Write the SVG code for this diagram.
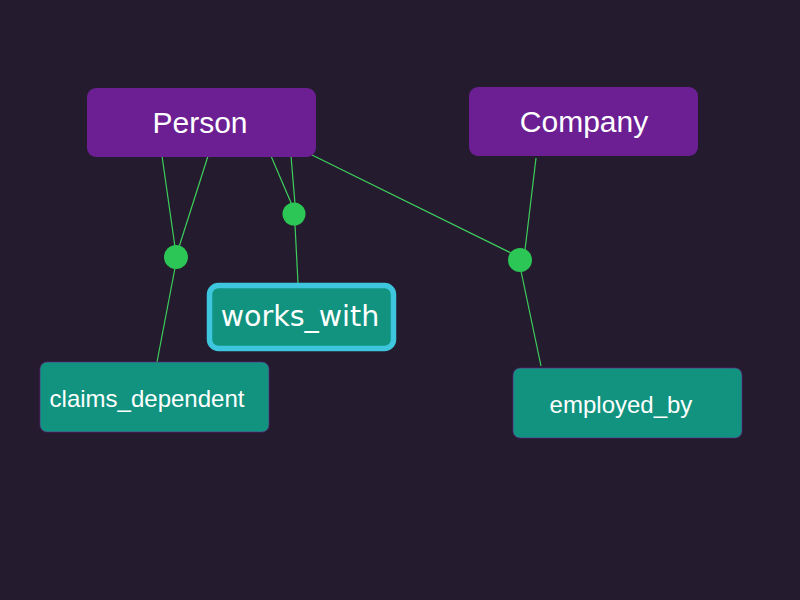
<svg xmlns="http://www.w3.org/2000/svg" width="800" height="600" viewBox="0 0 800 600">
<style>
.entity{fill:#6b1f93}
.rel{fill:#11937f}
.lbl{fill:#ffffff;font-family:"Liberation Sans",Arial,sans-serif;text-anchor:middle}
.edge{stroke:#3ccf5c;stroke-width:1.2;fill:none}
.dot{fill:#2bc655}
</style>
<rect width="800" height="600" fill="#251b2e"/>
<g id="connectors">
<line class="edge" x1="162" y1="156" x2="175" y2="247"/>
<line class="edge" x1="208" y1="156" x2="179" y2="247"/>
<line class="edge" x1="175" y1="268" x2="157" y2="362"/>
<line class="edge" x1="271" y1="156" x2="292" y2="205"/>
<line class="edge" x1="291" y1="156" x2="295" y2="204"/>
<line class="edge" x1="295" y1="225" x2="298" y2="283"/>
<line class="edge" x1="312" y1="155" x2="513" y2="254"/>
<line class="edge" x1="536" y1="158" x2="525" y2="250"/>
<line class="edge" x1="521" y1="271" x2="541" y2="366"/>
<circle class="dot" cx="176" cy="257" r="12"/>
<circle class="dot" cx="294" cy="214" r="11.5"/>
<circle class="dot" cx="520" cy="260" r="12"/>
</g>
<g id="person">
<rect class="entity" x="87" y="88" width="229" height="69" rx="9"/>
<text class="lbl" x="200" y="133" font-size="30">Person</text>
</g>
<g id="company">
<rect class="entity" x="469" y="87" width="229" height="69" rx="9"/>
<text class="lbl" x="584" y="132" font-size="30">Company</text>
</g>
<g id="works_with">
<rect class="rel" x="209.5" y="285.5" width="184" height="63" rx="9" stroke="#3ec6de" stroke-width="5.5"/>
<text class="lbl" x="300" y="326" font-size="28.5" style="font-family:'DejaVu Sans',Verdana,sans-serif">works_with</text>
</g>
<g id="claims_dependent">
<rect class="rel" x="40" y="362" width="229" height="70" rx="7" stroke="#6b1f93" stroke-width="0.6"/>
<text class="lbl" x="147" y="407" font-size="24">claims_dependent</text>
</g>
<g id="employed_by">
<rect class="rel" x="513" y="368" width="229" height="70" rx="7" stroke="#6b1f93" stroke-width="0.6"/>
<text class="lbl" x="621" y="413" font-size="24">employed_by</text>
</g>
</svg>
